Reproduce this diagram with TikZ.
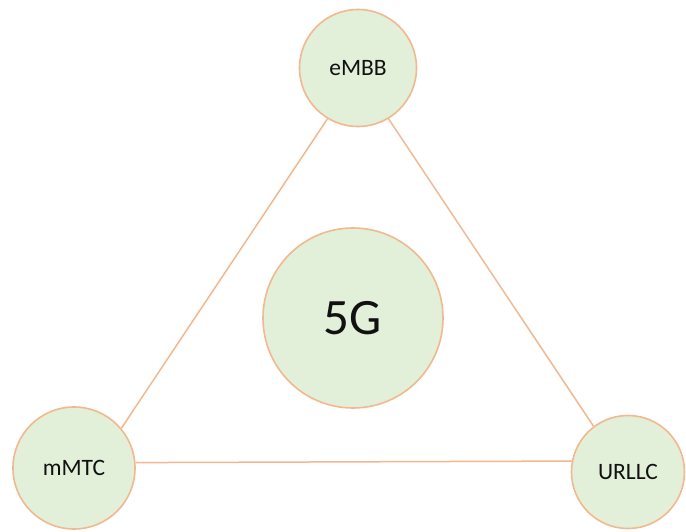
\documentclass[tikz,border=0pt]{standalone}
\usepackage{fontspec}
\setmainfont{Carlito}
\definecolor{cfill}{HTML}{E2EFD9}
\definecolor{cline}{HTML}{F2B88F}
\definecolor{ctext}{HTML}{111111}
\tikzset{
  usecase/.style={circle, draw=cline, fill=cfill, line width=1.6pt, inner sep=0pt, text=ctext, font=\fontsize{23.5}{28}\selectfont},
  link/.style={draw=cline, line width=1.5pt}
}
\begin{document}
\begin{tikzpicture}[x=1pt,y=-1pt]
\useasboundingbox[fill=white] (0,0) rectangle (686,532);
\node[usecase, minimum size=117pt] (embb) at (358,68) {eMBB};
\node[usecase, minimum size=122pt] (mmtc) at (74,468) {mMTC};
\node[usecase, minimum size=113pt] (urllc) at (628,472) {URLLC};
\node[usecase, minimum size=180pt, font=\fontsize{51}{56}\selectfont] (fiveg) at (353,318) {5G};
\draw[link] (embb.239) -- (mmtc.40);
\draw[link] (embb.301) -- (urllc.127);
\draw[link] (mmtc.5.6) -- (urllc.169.7);
\end{tikzpicture}
\end{document}
